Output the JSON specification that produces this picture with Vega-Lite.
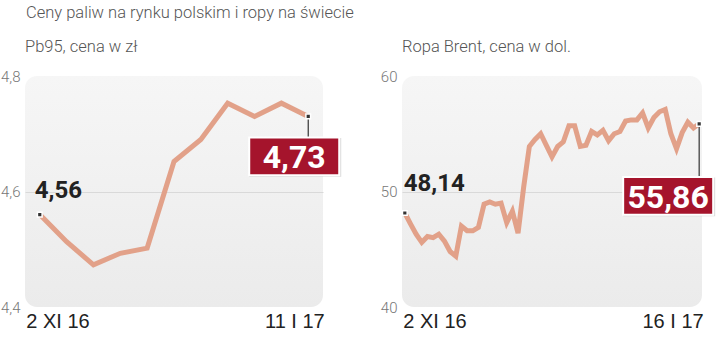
{
  "$schema": "https://vega.github.io/schema/vega-lite/v6.json",
  "padding": {"left": 0, "top": 5, "right": 0, "bottom": 0},
  "background": "white",
  "title": {"text": "Ceny paliw na rynku polskim i ropy na świecie", "anchor": "start", "frame": "group", "dx": 1, "font": "Roboto", "fontSize": 16.5, "fontWeight": 300, "color": "#555", "offset": 17},
  "datasets": {
    "pb95": [
      {"date": "2016-11-02", "value": 4.56},
      {"date": "2016-11-09", "value": 4.513},
      {"date": "2016-11-16", "value": 4.473},
      {"date": "2016-11-23", "value": 4.493},
      {"date": "2016-11-30", "value": 4.502},
      {"date": "2016-12-07", "value": 4.652},
      {"date": "2016-12-14", "value": 4.69},
      {"date": "2016-12-21", "value": 4.753},
      {"date": "2016-12-28", "value": 4.73},
      {"date": "2017-01-04", "value": 4.753},
      {"date": "2017-01-11", "value": 4.73}
    ],
    "brent": [
      {"date": "2016-11-02", "value": 48.14},
      {"date": "2016-11-03", "value": 47.2},
      {"date": "2016-11-04", "value": 46.3},
      {"date": "2016-11-07", "value": 45.6},
      {"date": "2016-11-08", "value": 46.1},
      {"date": "2016-11-09", "value": 46.0},
      {"date": "2016-11-10", "value": 46.3},
      {"date": "2016-11-11", "value": 45.7},
      {"date": "2016-11-14", "value": 44.8},
      {"date": "2016-11-15", "value": 44.4},
      {"date": "2016-11-16", "value": 47.0},
      {"date": "2016-11-17", "value": 46.6},
      {"date": "2016-11-18", "value": 46.6},
      {"date": "2016-11-21", "value": 46.9},
      {"date": "2016-11-22", "value": 48.9},
      {"date": "2016-11-23", "value": 49.1},
      {"date": "2016-11-24", "value": 48.9},
      {"date": "2016-11-25", "value": 49.0},
      {"date": "2016-11-28", "value": 47.3},
      {"date": "2016-11-29", "value": 48.3},
      {"date": "2016-11-30", "value": 46.4},
      {"date": "2016-12-01", "value": 50.4},
      {"date": "2016-12-02", "value": 53.9},
      {"date": "2016-12-05", "value": 54.5},
      {"date": "2016-12-06", "value": 55.0},
      {"date": "2016-12-07", "value": 54.0},
      {"date": "2016-12-08", "value": 53.0},
      {"date": "2016-12-09", "value": 53.9},
      {"date": "2016-12-12", "value": 54.3},
      {"date": "2016-12-13", "value": 55.7},
      {"date": "2016-12-14", "value": 55.7},
      {"date": "2016-12-15", "value": 53.9},
      {"date": "2016-12-16", "value": 54.0},
      {"date": "2016-12-19", "value": 55.2},
      {"date": "2016-12-20", "value": 54.9},
      {"date": "2016-12-21", "value": 55.3},
      {"date": "2016-12-22", "value": 54.4},
      {"date": "2016-12-23", "value": 55.0},
      {"date": "2016-12-27", "value": 55.2},
      {"date": "2016-12-28", "value": 56.1},
      {"date": "2016-12-29", "value": 56.2},
      {"date": "2016-12-30", "value": 56.2},
      {"date": "2017-01-02", "value": 56.8},
      {"date": "2017-01-03", "value": 55.5},
      {"date": "2017-01-04", "value": 56.4},
      {"date": "2017-01-05", "value": 56.9},
      {"date": "2017-01-06", "value": 57.1},
      {"date": "2017-01-09", "value": 55.0},
      {"date": "2017-01-10", "value": 53.7},
      {"date": "2017-01-11", "value": 55.1},
      {"date": "2017-01-12", "value": 56.0},
      {"date": "2017-01-13", "value": 55.5},
      {"date": "2017-01-16", "value": 55.86}
    ]
  },
  "spacing": 36,
  "hconcat": [
    {
      "width": 298,
      "height": 231,
      "title": {"text": "Pb95, cena w zł", "anchor": "start", "frame": "group", "font": "Roboto", "fontSize": 16.5, "fontWeight": 300, "color": "#555", "offset": 14},
      "data": {"name": "pb95"},
      "encoding": {
        "x": {
          "field": "date", "type": "ordinal",
          "scale": {"type": "point", "padding": 0.55},
          "axis": {
            "title": null, "values": ["2016-11-02", "2017-01-11"],
            "labelExpr": "datum.value == '2016-11-02' ? '2 XI 16' : '11 I 17'",
            "labelAlign": {"condition": {"test": "datum.value == '2016-11-02'", "value": "left"}, "value": "right"},
            "labelOffset": {"condition": {"test": "datum.value == '2016-11-02'", "value": -14}, "value": 16},
            "ticks": false, "domain": false, "grid": false, "labelPadding": 4, "labelBaseline": "top",
            "labelFont": "Liberation Sans", "labelFontSize": 20, "labelColor": "#222", "labelAngle": 0, "labelOverlap": false
          }
        },
        "y": {
          "field": "value", "type": "quantitative",
          "scale": {"domain": [4.4, 4.8], "zero": false, "nice": false},
          "axis": {
            "title": null, "values": [4.4, 4.6, 4.8], "format": ".1f",
            "ticks": false, "domain": false, "grid": true,
            "gridColor": {"condition": {"test": "abs(datum.value - 4.6) < 0.001", "value": "#d9d9d9"}, "value": "transparent"},
            "labelPadding": 5, "labelFont": "Roboto", "labelFontWeight": 300, "labelFontSize": 15, "labelColor": "#777", "labelBaseline": "middle"
          }
        }
      },
      "layer": [
        {"mark": {"type": "line", "color": "#e2a189", "strokeWidth": 5, "strokeJoin": "miter"}},
        {"transform": [{"filter": "datum.date == '2017-01-11'"}],
         "mark": {"type": "point", "shape": "M0,0V1", "size": 1681, "filled": false, "stroke": "#333", "strokeWidth": 1.2, "opacity": 1}},
        {"transform": [{"filter": "datum.date == '2016-11-02' || datum.date == '2017-01-11'"}],
         "mark": {"type": "square", "size": 22, "color": "#333", "stroke": "white", "strokeWidth": 1.5, "opacity": 1}},
        {"transform": [{"filter": "datum.date == '2017-01-11'"}],
         "mark": {"type": "point", "shape": "M-1,-0.42H1V0.42H-1Z", "size": 8464, "filled": true, "fill": "#999", "opacity": 0.35, "xOffset": -13, "yOffset": 41}},
        {"transform": [{"filter": "datum.date == '2017-01-11'"}],
         "mark": {"type": "point", "shape": "M-1,-0.42H1V0.42H-1Z", "size": 8100, "filled": true, "fill": "#a5142c", "stroke": "white", "strokeWidth": 2, "opacity": 1, "xOffset": -14, "yOffset": 40}},
        {"transform": [{"filter": "datum.date == '2017-01-11'"}],
         "mark": {"type": "text", "font": "Roboto", "fontWeight": "bold", "fontSize": 32, "color": "white", "dx": -14, "dy": 42, "baseline": "middle", "align": "center"},
         "encoding": {"text": {"field": "value", "type": "quantitative", "format": ".2f"}}},
        {"transform": [{"filter": "datum.date == '2016-11-02'"}],
         "mark": {"type": "text", "font": "Roboto", "fontWeight": "bold", "fontSize": 24, "color": "#222", "dx": -5, "dy": -17, "baseline": "alphabetic", "align": "left"},
         "encoding": {"text": {"field": "value", "type": "quantitative", "format": ".2f"}}}
      ]
    },
    {
      "width": 300,
      "height": 231,
      "title": {"text": "Ropa Brent, cena w dol.", "anchor": "start", "frame": "group", "font": "Roboto", "fontSize": 16.5, "fontWeight": 300, "color": "#555", "offset": 14},
      "data": {"name": "brent"},
      "encoding": {
        "x": {
          "field": "date", "type": "ordinal",
          "scale": {"type": "point", "padding": 0.5},
          "axis": {
            "title": null, "values": ["2016-11-02", "2017-01-16"],
            "labelExpr": "datum.value == '2016-11-02' ? '2 XI 16' : '16 I 17'",
            "labelAlign": {"condition": {"test": "datum.value == '2016-11-02'", "value": "left"}, "value": "right"},
            "labelOffset": {"condition": {"test": "datum.value == '2016-11-02'", "value": -2}, "value": 4},
            "ticks": false, "domain": false, "grid": false, "labelPadding": 4, "labelBaseline": "top",
            "labelFont": "Liberation Sans", "labelFontSize": 20, "labelColor": "#222", "labelAngle": 0, "labelOverlap": false
          }
        },
        "y": {
          "field": "value", "type": "quantitative",
          "scale": {"domain": [40, 60], "zero": false, "nice": false},
          "axis": {
            "title": null, "values": [40, 50, 60], "format": "d",
            "ticks": false, "domain": false, "grid": true,
            "gridColor": {"condition": {"test": "datum.value == 50", "value": "#d9d9d9"}, "value": "transparent"},
            "labelPadding": 5, "labelFont": "Roboto", "labelFontWeight": 300, "labelFontSize": 15, "labelColor": "#777", "labelBaseline": "middle"
          }
        }
      },
      "layer": [
        {"mark": {"type": "line", "color": "#e2a189", "strokeWidth": 5, "strokeJoin": "miter"}},
        {"transform": [{"filter": "datum.date == '2017-01-16'"}],
         "mark": {"type": "point", "shape": "M0,0V1", "size": 11236, "filled": false, "stroke": "#333", "strokeWidth": 1.2, "opacity": 1}},
        {"transform": [{"filter": "datum.date == '2016-11-02' || datum.date == '2017-01-16'"}],
         "mark": {"type": "square", "size": 22, "color": "#333", "stroke": "white", "strokeWidth": 1.5, "opacity": 1}},
        {"transform": [{"filter": "datum.date == '2017-01-16'"}],
         "mark": {"type": "point", "shape": "M-1,-0.42H1V0.42H-1Z", "size": 8464, "filled": true, "fill": "#999", "opacity": 0.35, "xOffset": -30, "yOffset": 73}},
        {"transform": [{"filter": "datum.date == '2017-01-16'"}],
         "mark": {"type": "point", "shape": "M-1,-0.42H1V0.42H-1Z", "size": 8100, "filled": true, "fill": "#a5142c", "stroke": "white", "strokeWidth": 2, "opacity": 1, "xOffset": -31, "yOffset": 72}},
        {"transform": [{"filter": "datum.date == '2017-01-16'"}],
         "mark": {"type": "text", "font": "Roboto", "fontWeight": "bold", "fontSize": 32, "color": "white", "dx": -31, "dy": 74, "baseline": "middle", "align": "center"},
         "encoding": {"text": {"field": "value", "type": "quantitative", "format": ".2f"}}},
        {"transform": [{"filter": "datum.date == '2016-11-02'"}],
         "mark": {"type": "text", "font": "Roboto", "fontWeight": "bold", "fontSize": 24, "color": "#222", "dx": -1, "dy": -22, "baseline": "alphabetic", "align": "left"},
         "encoding": {"text": {"field": "value", "type": "quantitative", "format": ".2f"}}}
      ]
    }
  ],
  "config": {
    "locale": {"number": {"decimal": ",", "thousands": " ", "grouping": [3], "currency": ["", ""]}},
    "view": {"stroke": null, "cornerRadius": 12, "fill": {"gradient": "linear", "x1": 0, "y1": 0, "x2": 0, "y2": 1, "stops": [{"offset": 0, "color": "#f6f6f6"}, {"offset": 1, "color": "#ebebeb"}]}}
  }
}
